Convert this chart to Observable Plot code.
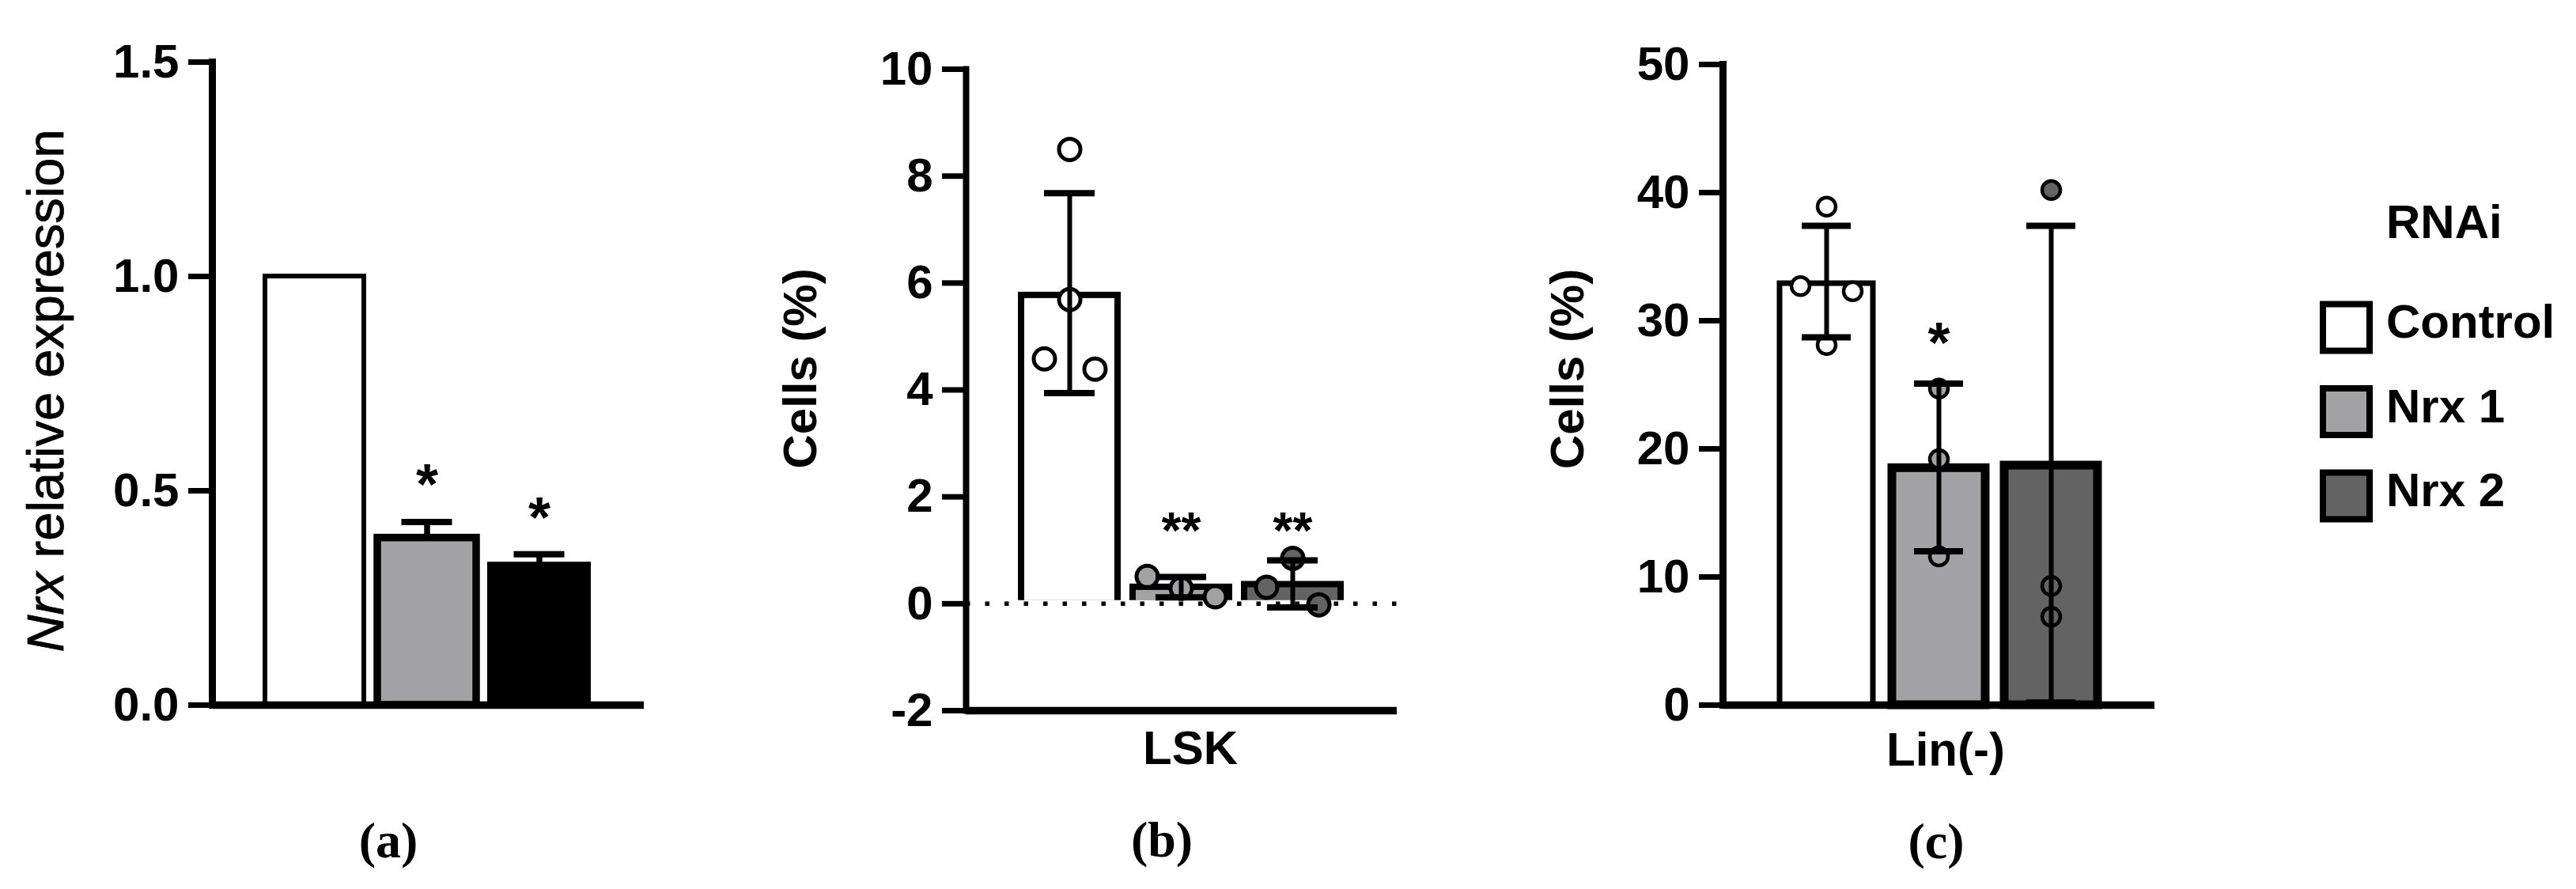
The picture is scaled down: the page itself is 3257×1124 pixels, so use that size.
<!DOCTYPE html>
<html>
<head>
<meta charset="utf-8">
<script src="https://cdn.jsdelivr.net/npm/d3@7"></script>
<script src="https://cdn.jsdelivr.net/npm/@observablehq/plot@0.6"></script>
<style>
  body { margin: 0; background: #fff; }
  #root { position: relative; width: 3257px; height: 1124px; overflow: hidden; background: #fff; }
  #root svg { position: absolute; left: 0; top: 0; }
</style>
</head>
<body>
<div id="root"></div>
<script>
// ---------- data ----------
const groups = ["Control", "Nrx 1", "Nrx 2"];
const fillsA = ["#ffffff", "#a2a1a6", "#000000"];
const fillsBC = ["#ffffff", "#a2a1a6", "#636363"];

// (a) Nrx relative expression
const aMean = [1.00, 0.39, 0.328];
const aUpper = [null, 0.427, 0.352];
const aSig = ["", "*", "*"];
const aSigY = [null, 0.546, 0.467];
const aTicks = [0, 0.5, 1.0, 1.5];

// (b) LSK cells (%)
const bMean = [5.77, 0.31, 0.36];
const bLower = [3.94, 0.12, -0.07];
const bUpper = [7.68, 0.50, 0.81];
const bPoints = [[8.50, 5.69, 4.58, 4.39], [0.51, 0.29, 0.13], [0.31, 0.85, -0.02]];
const bSide = [[0, 0, -1, 1], [-1, 0, 1], [-1, 0, 1]];
const bSig = ["", "**", "**"];
const bSigY = [null, 1.58, 1.58];
const bTicks = [-2, 0, 2, 4, 6, 8, 10];

// (c) Lin(-) cells (%)
const cMean = [32.9, 18.5, 18.7];
const cLower = [28.7, 12.0, 0.2];
const cUpper = [37.4, 25.1, 37.4];
const cPoints = [[38.9, 32.7, 32.3, 28.1], [24.7, 19.2, 11.6], [40.2, 9.3, 6.9]];
const cSide = [[0, -1, 1, 0], [0, 0, 0], [0, 0, 0]];
const cSig = ["", "*", ""];
const cSigY = [null, 29.3, null];
const cTicks = [0, 10, 20, 30, 40, 50];

const legendTitle = "RNAi";

// ---------- drawing ----------
const W = 3257, H = 1124;
const SANS = "'Liberation Sans', Arial, sans-serif";
const SERIF = "'Liberation Serif', 'Times New Roman', serif";

function panel(cfg) {
  const bars = groups.map((g, i) => ({
    group: g, mean: cfg.mean[i], fill: cfg.fills[i], sw: cfg.barStroke[i],
    lower: cfg.lower ? cfg.lower[i] : null, upper: cfg.upper[i],
    sig: cfg.sig[i], sigY: cfg.sigY[i]
  }));
  const err = bars.filter(d => d.upper != null);
  const sig = bars.filter(d => d.sig);
  const pts = [];
  if (cfg.points) groups.forEach((g, i) => cfg.points[i].forEach((v, j) =>
    pts.push({group: g, value: v, fill: cfg.fills[i], off: cfg.side[i][j] * cfg.jitter[i]})));
  const offsets = Array.from(new Set(pts.map(p => p.off)));

  const marks = [];
  marks.push(Plot.barY(bars, {x: "group", y1: cfg.base, y2: "mean", fill: "fill", stroke: "black", strokeWidth: "sw"}));
  if (cfg.dotted) {
    marks.push(Plot.ruleY([0], {stroke: "white", strokeWidth: 9}));
    marks.push(Plot.ruleY([0], {stroke: "black", strokeWidth: 5.5, strokeDasharray: "5.5 19"}));
  }
  offsets.forEach(o => marks.push(Plot.dot(pts.filter(p => p.off === o), {
    x: "group", y: "value", r: cfg.r, fill: "fill", stroke: "black", strokeWidth: cfg.dotStroke, dx: o
  })));
  marks.push(Plot.ruleX(err, {x: "group", y1: cfg.lower ? "lower" : "mean", y2: "upper", strokeWidth: cfg.stemW}));
  marks.push(Plot.tickY(err, {x: "group", y: "upper", strokeWidth: 8, inset: cfg.capInset}));
  if (cfg.lower) marks.push(Plot.tickY(err, {x: "group", y: "lower", strokeWidth: 8, inset: cfg.capInset}));
  marks.push(Plot.text(sig, {x: "group", y: "sigY", text: "sig", fontSize: cfg.sigSize, fontWeight: "bold",
    lineAnchor: "middle", dy: cfg.sigSize * 0.25}));
  marks.push(Plot.ruleY([cfg.yDomain[0]], {strokeWidth: 9.5}));
  marks.push(Plot.frame({anchor: "left", strokeWidth: cfg.axisW}));
  marks.push(Plot.axisY({ticks: cfg.ticks, tickSize: 30, tickPadding: 12, strokeWidth: 7,
    fontSize: 60, fontWeight: "bold", tickFormat: cfg.fmt, label: null}));

  return Plot.plot({
    width: W, height: H,
    marginLeft: cfg.axisX, marginRight: W - cfg.xEnd,
    marginTop: cfg.top, marginBottom: H - cfg.bottom,
    style: {background: "transparent", fontFamily: SANS, fontWeight: "bold", color: "black", overflow: "visible"},
    x: {domain: groups, range: cfg.xRange, paddingInner: cfg.pad, paddingOuter: 0, axis: null},
    y: {domain: cfg.yDomain},
    marks
  });
}

const root = document.getElementById("root");

root.appendChild(panel({
  mean: aMean, upper: aUpper, lower: null, fills: fillsA, barStroke: [6, 9.5, 6],
  sig: aSig, sigY: aSigY, sigSize: 72, ticks: aTicks, fmt: d3.format(".1f"), yDomain: [0, 1.5], base: 0,
  axisX: 268, xEnd: 814, top: 78, bottom: 891, axisW: 9, stemW: 7.5,
  xRange: [334.5, 743.5], pad: 0.12, capInset: 30.5
}));

root.appendChild(panel({
  mean: bMean, upper: bUpper, lower: bLower, fills: fillsBC, barStroke: [8, 8, 8],
  points: bPoints, side: bSide, jitter: [32, 43, 33], r: 13.5, dotStroke: 5,
  sig: bSig, sigY: bSigY, sigSize: 64, ticks: bTicks, fmt: d => String(d), yDomain: [-2, 10], base: 0,
  axisX: 1221, xEnd: 1766, top: 87, bottom: 898, axisW: 8, dotted: true, stemW: 6,
  xRange: [1290, 1695], pad: 0.138, capInset: 29
}));

root.appendChild(panel({
  mean: cMean, upper: cUpper, lower: cLower, fills: fillsBC, barStroke: [7, 11, 11],
  points: cPoints, side: cSide, jitter: [33, 0, 0], r: 11.5, dotStroke: 4.5,
  sig: cSig, sigY: cSigY, sigSize: 72, ticks: cTicks, fmt: d => String(d), yDomain: [0, 50], base: 0,
  axisX: 2178, xEnd: 2724, top: 81, bottom: 891, axisW: 9, stemW: 6,
  xRange: [2249, 2652], pad: 0.17, capInset: 28
}));

// ---------- labels, captions, legend ----------
const ov = d3.create("svg").attr("width", W).attr("height", H)
  .style("background", "transparent").style("font-family", SANS);

const ya = ov.append("text").attr("transform", "translate(80,494) rotate(-90)")
  .attr("text-anchor", "middle").attr("font-size", 65).attr("font-weight", "normal")
  .attr("stroke", "black").attr("stroke-width", 0.8);
ya.append("tspan").attr("font-style", "italic").text("Nrx");
ya.append("tspan").text(" relative expression");

[[1032, 466], [2002, 466.5]].forEach(([x, y]) =>
  ov.append("text").attr("transform", `translate(${x},${y}) rotate(-90)`)
    .attr("text-anchor", "middle").attr("font-size", 60).attr("font-weight", "bold").text("Cells (%)"));

[["LSK", 1505, 966], ["Lin(-)", 2460, 968]].forEach(([t, x, y]) =>
  ov.append("text").attr("x", x).attr("y", y).attr("text-anchor", "middle")
    .attr("font-size", 60).attr("font-weight", "bold").text(t));

[["(a)", 491, 1084], ["(b)", 1469, 1083], ["(c)", 2448, 1085]].forEach(([t, x, y]) =>
  ov.append("text").attr("x", x).attr("y", y).attr("text-anchor", "middle")
    .attr("font-family", SERIF).attr("font-size", 64).attr("font-weight", "bold").text(t));

ov.append("text").attr("x", 3017).attr("y", 301).attr("font-size", 60).attr("font-weight", "bold").text(legendTitle);
groups.forEach((g, i) => {
  const cy = 414 + i * 106.5;
  ov.append("rect").attr("x", 2937).attr("y", cy - 29.5).attr("width", 59).attr("height", 59)
    .attr("fill", fillsBC[i]).attr("stroke", "black").attr("stroke-width", 8);
  ov.append("text").attr("x", 3017).attr("y", cy + 13).attr("font-size", 60).attr("font-weight", "bold").text(g);
});

root.appendChild(ov.node());
</script>
</body>
</html>
